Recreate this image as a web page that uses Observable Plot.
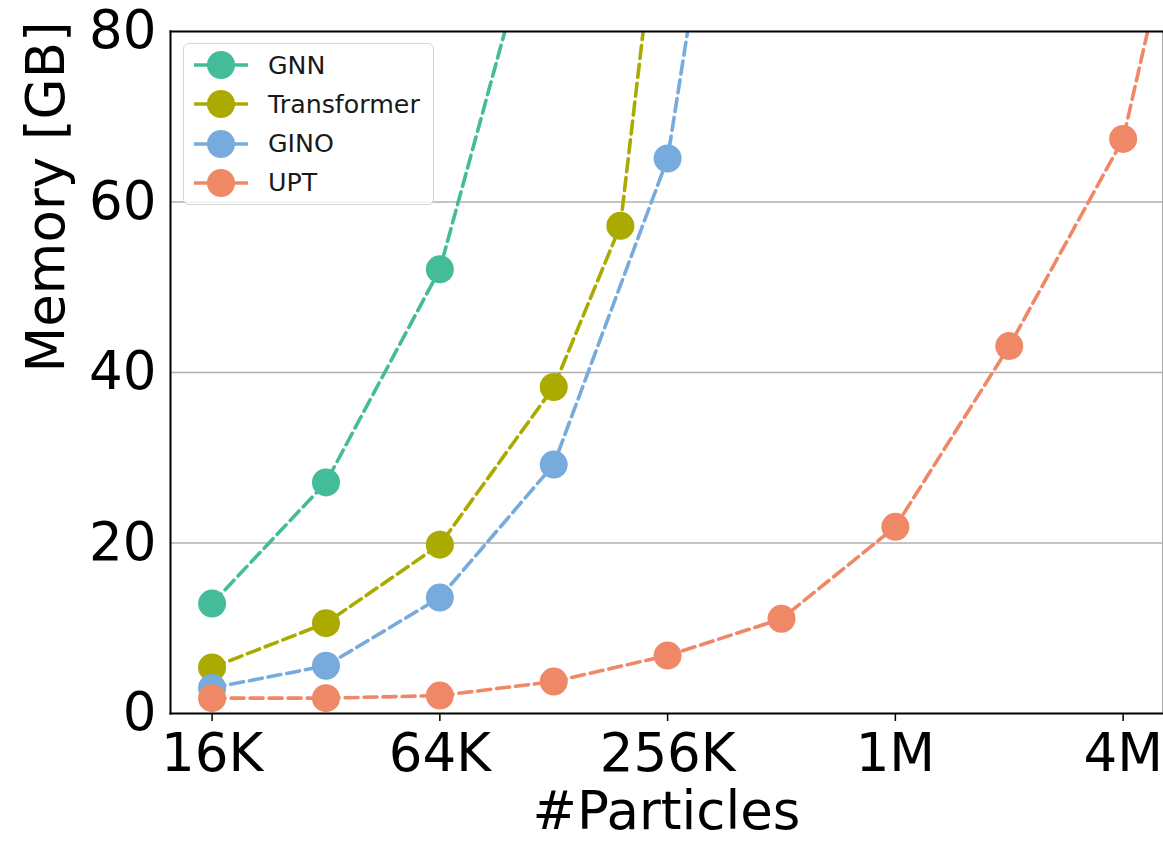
<!DOCTYPE html>
<html>
<head>
<meta charset="utf-8">
<script src="https://cdn.jsdelivr.net/npm/d3@7"></script>
<script src="https://cdn.jsdelivr.net/npm/@observablehq/plot@0.6"></script>
<style>
  html, body { margin: 0; padding: 0; background: #fff; }
  #wrap { position: relative; width: 1163px; height: 843px; overflow: hidden; font-family: "DejaVu Sans", sans-serif; }
  #legend { position: absolute; left: 183px; top: 43px; width: 251px; height: 162px; box-sizing: border-box;
            border: 1.5px solid #d5d5d5; border-radius: 6px; background: rgba(255,255,255,0.85); }
  .entry { position: absolute; left: 9px; height: 30px; display: flex; align-items: center; }
  .entry span { font-size: 25.3px; color: #1a1a1a; margin-left: 19px; }
</style>
</head>
<body>
<div id="wrap"><div id="legend"></div></div>
<script>
// ---- data ----
const seriesNames = ["GNN", "Transformer", "GINO", "UPT"];
const seriesColors = ["#44BB99", "#AAAA00", "#77AADD", "#EE8866"];

const gnnParticles = [16384, 32768, 65536, 131072];
const gnnMemory = [12.9, 27.1, 52.1, 101];

const transformerParticles = [16384, 32768, 65536, 131072, 196608, 262144];
const transformerMemory = [5.4, 10.6, 19.8, 38.3, 57.2, 104.5];

const ginoParticles = [16384, 32768, 65536, 131072, 262144, 524288];
const ginoMemory = [3.0, 5.6, 13.6, 29.2, 65.1, 150];

const uptParticles = [16384, 32768, 65536, 131072, 262144, 524288, 1048576, 2097152, 4194304, 8388608];
const uptMemory = [1.8, 1.8, 2.1, 3.75, 6.8, 11.1, 21.9, 43.1, 67.4, 126];

const xTickValues = [16384, 65536, 262144, 1048576, 4194304];
const xTickLabels = ["16K", "64K", "256K", "1M", "4M"];
const yTickValues = [0, 20, 40, 60, 80];
const yGridValues = [20, 40, 60];

const xLabel = "#Particles";
const yLabel = "Memory [GB]";

// ---- build table ----
const seriesX = [gnnParticles, transformerParticles, ginoParticles, uptParticles];
const seriesY = [gnnMemory, transformerMemory, ginoMemory, uptMemory];
const rows = [];
seriesNames.forEach((name, i) => {
  seriesX[i].forEach((x, j) => rows.push({series: name, n: x, mem: seriesY[i][j]}));
});

const seriesMarks = seriesNames.flatMap((name, i) => {
  const d = rows.filter(r => r.series === name);
  return [
    Plot.line(d, {x: "n", y: "mem", stroke: seriesColors[i], strokeWidth: 3.6, strokeDasharray: "13,6", clip: true}),
    Plot.dot(d, {x: "n", y: "mem", r: 14, fill: seriesColors[i], stroke: "none", clip: true})
  ];
});

const chart = Plot.plot({
  width: 1163,
  height: 843,
  marginLeft: 170,
  marginRight: 1,
  marginTop: 31,
  marginBottom: 130,
  style: {fontFamily: "DejaVu Sans, sans-serif", background: "white", color: "black"},
  x: {type: "log", base: 2, domain: [12720, 5.33e6]},
  y: {domain: [0, 80]},
  marks: [
    Plot.ruleY(yGridValues, {stroke: "#b0b0b0", strokeWidth: 1.5}),
    ...seriesMarks,
    Plot.frame({anchor: "right", stroke: "#aaaaaa", strokeWidth: 1}),
    Plot.frame({anchor: "left", stroke: "black", strokeWidth: 2}),
    Plot.frame({anchor: "top", stroke: "black", strokeWidth: 2}),
    Plot.frame({anchor: "bottom", stroke: "black", strokeWidth: 2}),
    Plot.axisX({ticks: xTickValues, tickFormat: (d) => xTickLabels[xTickValues.indexOf(d)], tickSize: 8, tickPadding: 12, fontSize: 53, label: null, strokeWidth: 1.5}),
    Plot.axisY({ticks: yTickValues, tickSize: 0, tickPadding: 14, fontSize: 53, label: null}),
    Plot.text([xLabel], {text: d => d, frameAnchor: "bottom", dy: 99, fontSize: 53, lineAnchor: "middle"}),
    Plot.text([yLabel], {text: d => d, frameAnchor: "left", dx: -123, rotate: -90, fontSize: 53, lineAnchor: "middle"})
  ]
});

document.getElementById("wrap").prepend(chart);

// ---- legend ----
const legend = document.getElementById("legend");
seriesNames.forEach((name, i) => {
  const e = document.createElement("div");
  e.className = "entry";
  e.style.top = (6 + i * 39.3) + "px";
  e.innerHTML = `<svg width="56" height="30"><line x1="1" x2="55" y1="15" y2="15" stroke="${seriesColors[i]}" stroke-width="3.6"/><circle cx="28" cy="15" r="14" fill="${seriesColors[i]}"/></svg><span>${name}</span>`;
  legend.appendChild(e);
});
</script>
</body>
</html>
